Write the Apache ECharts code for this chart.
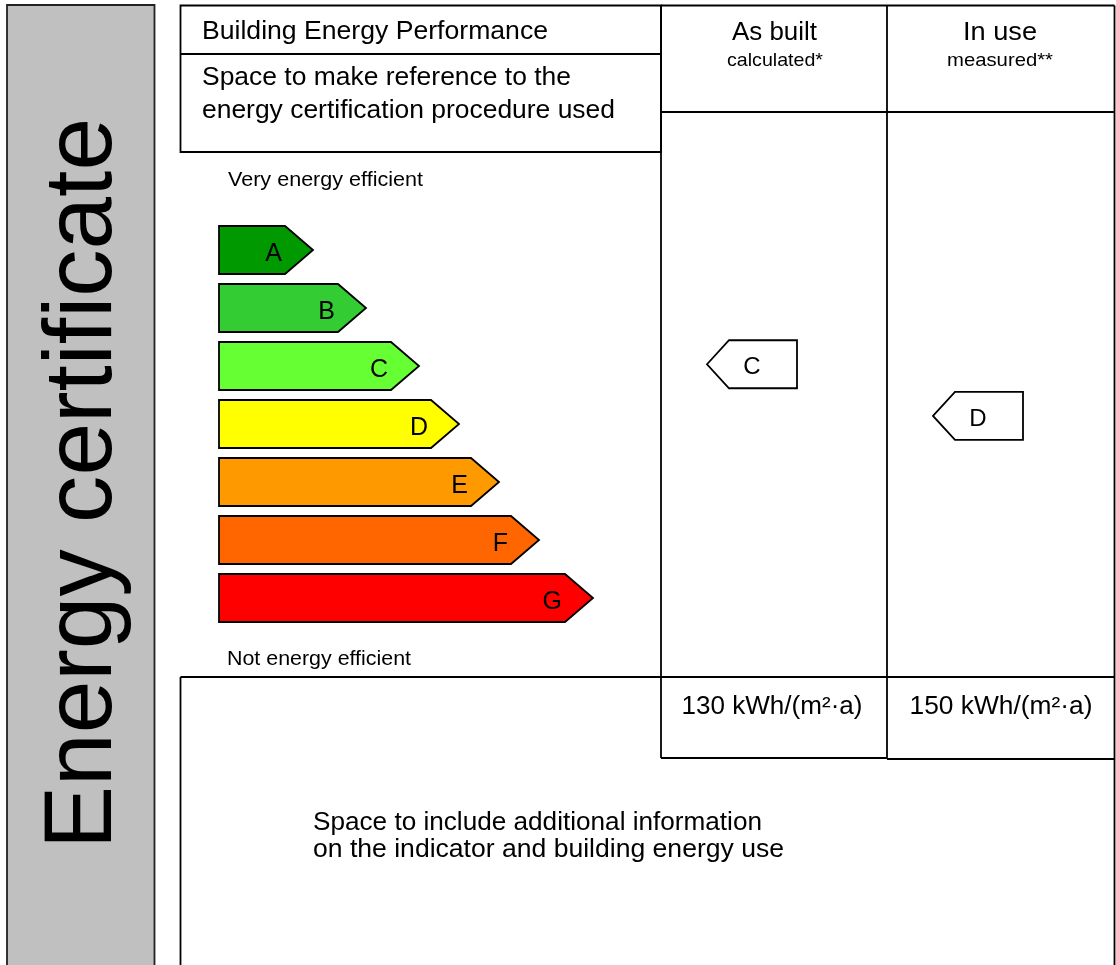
<!DOCTYPE html>
<html>
<head>
<meta charset="utf-8">
<script src="https://cdn.jsdelivr.net/npm/echarts@6/dist/echarts.min.js"></script>
<style>
html,body{margin:0;padding:0;background:#fff;}
#main{width:1116px;height:965px;}
</style>
</head>
<body>
<div id="main"></div>
<script>
// ---- data ----
const ratingClasses = ['A', 'B', 'C', 'D', 'E', 'F', 'G'];
const barLengths = [94, 147, 200, 240, 280, 320, 374];
const classColors = ['#009900', '#33cc33', '#66ff33', '#ffff00', '#ff9900', '#ff6600', '#ff0000'];
const columnNames = ['As built', 'In use'];
const columnSubtitles = ['calculated*', 'measured**'];
const markerClasses = ['C', 'D'];
const markerLevels = [1.97, 2.86];   // position on the A..G rating scale
const energyValues = [130, 150];
const energyUnit = 'kWh/(m\u00b2\u00b7a)';

// ---- helpers ----
const FAMILY = '"Liberation Sans", Arial, Helvetica, sans-serif';
const mctx = document.createElement('canvas').getContext('2d');
function natW(text, size) {
  mctx.font = size + 'px ' + FAMILY;
  return mctx.measureText(text).width;
}
function txt(text, x, y, size, width, align, extra) {
  const sx = width ? width / natW(text, size) : 1;
  return Object.assign({
    type: 'text', x: x, y: y, scaleX: sx, z: 10,
    style: { text: text, font: size + 'px ' + FAMILY, fill: '#000',
             align: align || 'left', verticalAlign: 'middle' }
  }, extra || {});
}
const LW = 1.8, LC = '#000';
function ln(x1, y1, x2, y2) {
  return { type: 'line', z: 5, shape: { x1, y1, x2, y2 }, style: { stroke: LC, lineWidth: LW } };
}

const graphics = [
  // grey side panel
  { type: 'rect', z: 1, shape: { x: 7, y: 5, width: 147.5, height: 975 },
    style: { fill: '#c0c0c0', stroke: '#222', lineWidth: LW } },
  txt('Energy certificate', 85, 483.5, 96, 731, 'center', { rotation: Math.PI / 2 }),
  // top-left box
  { type: 'rect', z: 5, shape: { x: 180.5, y: 5.5, width: 480.5, height: 146.5 },
    style: { fill: 'none', stroke: LC, lineWidth: LW } },
  ln(180.5, 54, 661, 54),
  // columns
  ln(661, 5.5, 1114.5, 5.5),
  ln(661, 5.5, 661, 758),
  ln(887, 5.5, 887, 759),
  ln(1114.5, 5.5, 1114.5, 965),
  ln(661, 112, 1114.5, 112),
  ln(180.5, 677, 1114.5, 677),
  ln(661, 758, 887, 758),
  ln(887, 759, 1114.5, 759),
  ln(180.5, 677, 180.5, 965),
  // texts
  txt('Building Energy Performance', 202, 32, 25, 346),
  txt('Space to make reference to the', 202, 78, 25, 369),
  txt('energy certification procedure used', 202, 111, 25, 413),
  txt(columnNames[0], 774.5, 33, 25, 85, 'center'),
  txt(columnSubtitles[0], 775, 61, 19, 96, 'center'),
  txt(columnNames[1], 1000, 33, 25, 74, 'center'),
  txt(columnSubtitles[1], 1000, 61, 19, 106, 'center'),
  txt('Very energy efficient', 228, 180, 20, 195),
  txt('Not energy efficient', 227, 659, 20, 184),
  txt(energyValues[0] + ' ' + energyUnit, 772, 707, 26, 181, 'center'),
  txt(energyValues[1] + ' ' + energyUnit, 1001, 707, 26, 183, 'center'),
  txt('Space to include additional information', 313, 823, 25, 449),
  txt('on the indicator and building energy use', 313, 850, 25, 471)
];

function renderBar(params, api) {
  const i = params.dataIndex;
  const c = api.coord([api.value(0), api.value(1)]);
  const s = api.coord([0, api.value(1)]);
  const h = api.size([0, 1])[1] * 48 / 58;
  const tip = 28;
  const y0 = c[1] - h / 2, y1 = c[1] + h / 2;
  return {
    type: 'group',
    children: [
      { type: 'polygon',
        shape: { points: [[s[0], y0], [c[0] - tip, y0], [c[0], c[1]], [c[0] - tip, y1], [s[0], y1]] },
        style: { fill: classColors[i], stroke: '#000', lineWidth: LW } },
      { type: 'text', x: c[0] - tip - 3, y: c[1] + 4,
        style: { text: ratingClasses[i], font: '25px ' + FAMILY, fill: '#000',
                 align: 'right', verticalAlign: 'middle' } }
    ]
  };
}

function renderMarker(params, api) {
  const i = params.dataIndex;
  const c = api.coord([api.value(0), api.value(1)]);
  const h = api.size([0, 1])[1] * 48 / 58;
  const cx = c[0] - 22;
  const left = cx - 45, right = cx + 45, tip = 22;
  const y0 = c[1] - h / 2, y1 = c[1] + h / 2;
  return {
    type: 'group',
    children: [
      { type: 'polygon',
        shape: { points: [[left, c[1]], [left + tip, y0], [right, y0], [right, y1], [left + tip, y1]] },
        style: { fill: '#fff', stroke: '#000', lineWidth: LW } },
      { type: 'text', x: cx, y: c[1] + 3,
        style: { text: markerClasses[i], font: '24px ' + FAMILY, fill: '#000',
                 align: 'center', verticalAlign: 'middle' } }
    ]
  };
}

const chart = echarts.init(document.getElementById('main'), null, { renderer: 'canvas' });
chart.setOption({
  animation: false,
  backgroundColor: '#fff',
  grid: [
    { left: 219, top: 221, width: 400, height: 406 },
    { left: 661, top: 221, width: 452, height: 406 }
  ],
  xAxis: [
    { gridIndex: 0, type: 'value', min: 0, max: 400, show: false },
    { gridIndex: 1, type: 'category', data: columnNames, show: false }
  ],
  yAxis: [
    { gridIndex: 0, type: 'category', data: ratingClasses, inverse: true, show: false },
    { gridIndex: 1, type: 'value', min: -0.5, max: 6.5, inverse: true, show: false }
  ],
  graphic: graphics,
  series: [
    { type: 'custom', xAxisIndex: 0, yAxisIndex: 0, renderItem: renderBar, clip: false,
      encode: { x: 0, y: 1 },
      data: ratingClasses.map((c, i) => [barLengths[i], i]) },
    { type: 'custom', xAxisIndex: 1, yAxisIndex: 1, renderItem: renderMarker, clip: false,
      encode: { x: 0, y: 1 },
      data: markerClasses.map((c, i) => [i, markerLevels[i]]) }
  ]
});
</script>
</body>
</html>
